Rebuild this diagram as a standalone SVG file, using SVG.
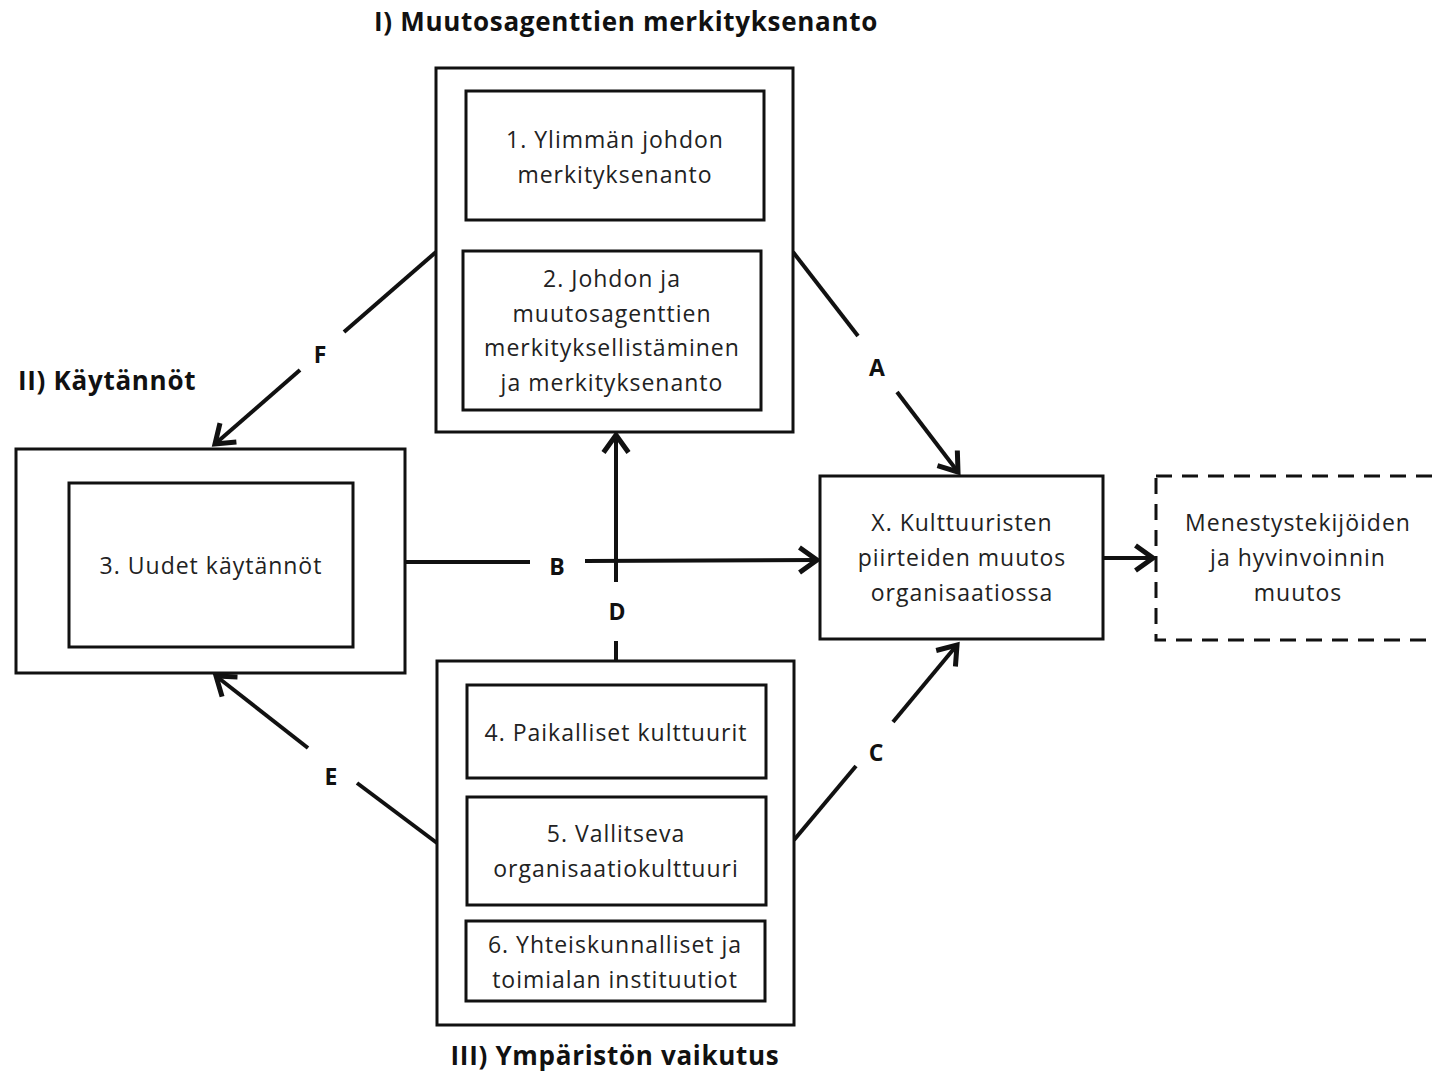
<svg xmlns="http://www.w3.org/2000/svg" width="1432" height="1071" viewBox="0 0 1432 1071">
<style>
.box{fill:#fff;stroke:#111;stroke-width:3}
.dash{fill:#fff;stroke:#111;stroke-width:3;stroke-dasharray:16 10}
.t{font-family:"Open Sans","Liberation Sans",sans-serif;font-size:23px;letter-spacing:1px;fill:#222;text-anchor:middle}
.h{font-family:"Open Sans","Liberation Sans",sans-serif;font-size:26px;letter-spacing:0.7px;font-weight:bold;fill:#111}
.l{font-family:"Open Sans","Liberation Sans",sans-serif;font-size:23px;font-weight:bold;fill:#111;text-anchor:middle}
.c{fill:none;stroke:#111;stroke-width:4}
</style>
<defs>
<marker id="arr" markerUnits="userSpaceOnUse" markerWidth="30" markerHeight="30" refX="20" refY="12" orient="auto" viewBox="0 0 24 24">
<path d="M6,2 L20,12 L6,22" fill="none" stroke="#111" stroke-width="4"/>
</marker>
</defs>
<rect width="1432" height="1071" fill="#fff"/>
<text class="h" x="626" y="31" text-anchor="middle">I) Muutosagenttien merkityksenanto</text>
<text class="h" x="18" y="390">II) Käytännöt</text>
<text class="h" x="615" y="1065" text-anchor="middle">III) Ympäristön vaikutus</text>

<g id="connectors">
<line class="c" x1="436" y1="252" x2="344" y2="332"/>
<line class="c" x1="300" y1="370" x2="215" y2="444" marker-end="url(#arr)"/>
<line class="c" x1="793" y1="252" x2="858" y2="336"/>
<line class="c" x1="897" y1="392" x2="958" y2="472" marker-end="url(#arr)"/>
<line class="c" x1="405" y1="562" x2="530" y2="562"/>
<line class="c" x1="585" y1="561" x2="817" y2="560" marker-end="url(#arr)"/>
<line class="c" x1="616" y1="661" x2="616" y2="641"/>
<line class="c" x1="616" y1="582" x2="616" y2="435" marker-end="url(#arr)"/>
<line class="c" x1="794" y1="840" x2="856" y2="766"/>
<line class="c" x1="893" y1="722" x2="957" y2="645" marker-end="url(#arr)"/>
<line class="c" x1="437" y1="843" x2="357" y2="783"/>
<line class="c" x1="308" y1="748" x2="216" y2="676" marker-end="url(#arr)"/>
<line class="c" x1="1103" y1="558" x2="1153" y2="558" marker-end="url(#arr)"/>
<text class="l" x="320" y="363">F</text>
<text class="l" x="877" y="376">A</text>
<text class="l" x="557" y="575">B</text>
<text class="l" x="617" y="620">D</text>
<text class="l" x="876" y="761">C</text>
<text class="l" x="331" y="785">E</text>
</g>

<g id="group-I">
<rect class="box" x="436" y="68" width="357" height="364"/>
</g>
<g id="node-1">
<rect class="box" x="466" y="91" width="298" height="129"/>
<text class="t" x="615" y="148">1. Ylimmän johdon</text>
<text class="t" x="615" y="183">merkityksenanto</text>
</g>
<g id="node-2">
<rect class="box" x="463" y="251" width="298" height="159"/>
<text class="t" x="612" y="287">2. Johdon ja</text>
<text class="t" x="612" y="322">muutosagenttien</text>
<text class="t" x="612" y="356">merkityksellistäminen</text>
<text class="t" x="612" y="391">ja merkityksenanto</text>
</g>

<g id="group-II">
<rect class="box" x="16" y="449" width="389" height="224"/>
</g>
<g id="node-3">
<rect class="box" x="69" y="483" width="284" height="164"/>
<text class="t" x="211" y="574">3. Uudet käytännöt</text>
</g>

<g id="node-X">
<rect class="box" x="820" y="476" width="283" height="163"/>
<text class="t" x="962" y="531">X. Kulttuuristen</text>
<text class="t" x="962" y="566">piirteiden muutos</text>
<text class="t" x="962" y="601">organisaatiossa</text>
</g>

<g id="node-outcome">
<rect class="dash" x="1156" y="476" width="300" height="164"/>
<text class="t" x="1298" y="531">Menestystekijöiden</text>
<text class="t" x="1298" y="566">ja hyvinvoinnin</text>
<text class="t" x="1298" y="601">muutos</text>
</g>

<g id="group-III">
<rect class="box" x="437" y="661" width="357" height="364"/>
</g>
<g id="node-4">
<rect class="box" x="467" y="685" width="299" height="93"/>
<text class="t" x="616" y="741">4. Paikalliset kulttuurit</text>
</g>
<g id="node-5">
<rect class="box" x="467" y="797" width="299" height="108"/>
<text class="t" x="616" y="842">5. Vallitseva</text>
<text class="t" x="616" y="877">organisaatiokulttuuri</text>
</g>
<g id="node-6">
<rect class="box" x="466" y="921" width="299" height="80"/>
<text class="t" x="615" y="953">6. Yhteiskunnalliset ja</text>
<text class="t" x="615" y="988">toimialan instituutiot</text>
</g>
</svg>
